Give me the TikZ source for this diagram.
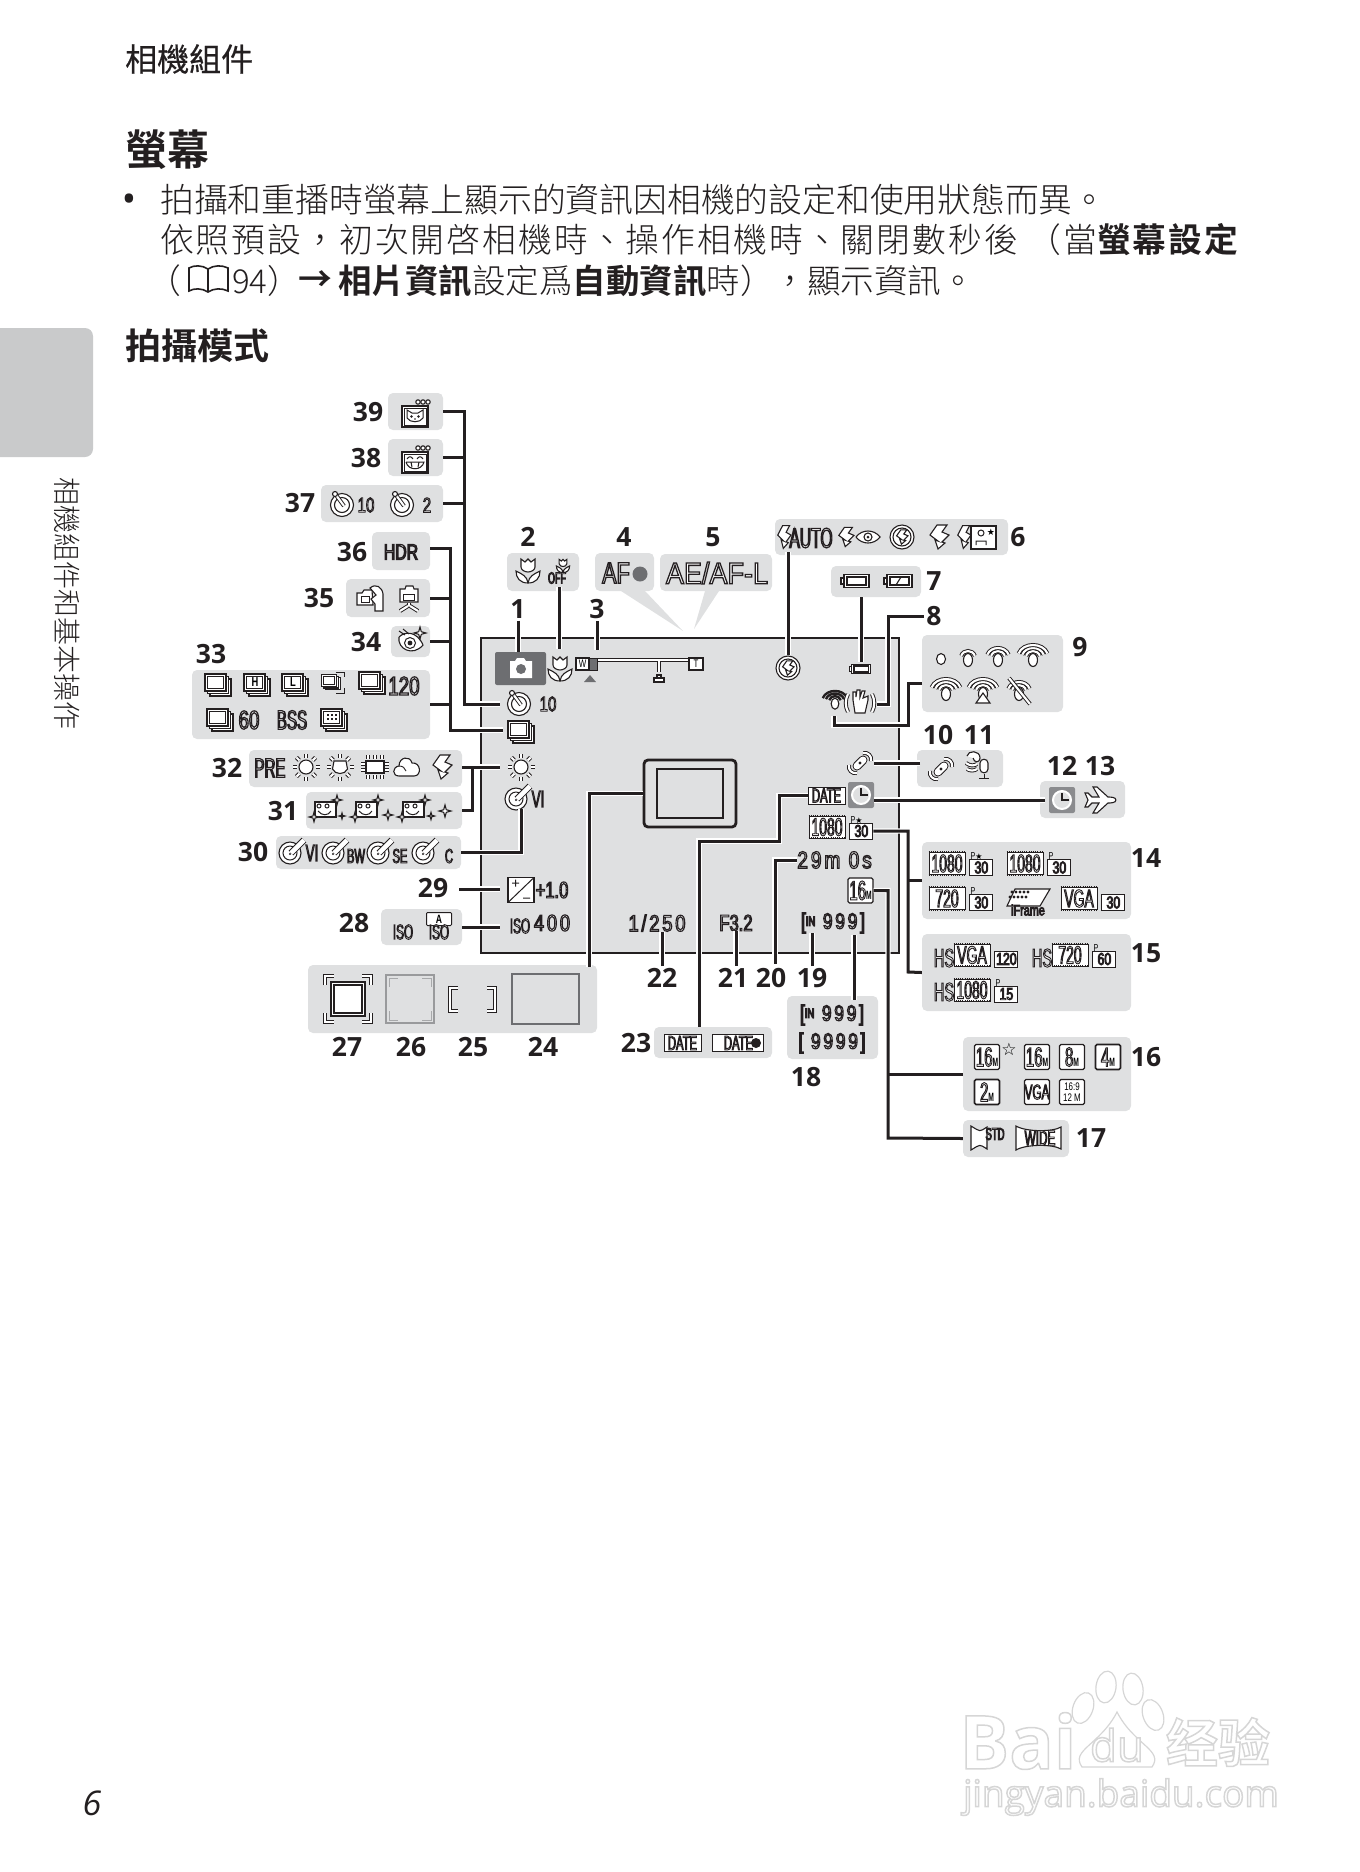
\documentclass[tikz,border=0pt]{standalone}
\usepackage{fontspec}
\setmainfont{Open Sans}
\newfontfamily\cjk[BoldFont={Noto Sans CJK TC Bold}]{Noto Sans CJK TC Light}
\newfontfamily\cjkm[BoldFont={Noto Sans CJK TC Bold}]{Noto Sans CJK TC}
\newfontfamily\narrow[FakeStretch=.72]{Liberation Sans}
\newfontfamily\tight[FakeStretch=.56]{Liberation Sans}
\newfontfamily\wider[FakeStretch=.9]{Liberation Sans}
\newfontfamily\spaced[FakeStretch=.8,LetterSpace=12]{Liberation Sans}
\newfontfamily\dejavu{DejaVu Sans}
\usetikzlibrary{positioning, calc}
\definecolor{ink}{HTML}{231F20}
\definecolor{panelc}{HTML}{DFE0E1}
\definecolor{tabc}{HTML}{C9CACB}
\definecolor{camc}{HTML}{6D6E71}
\newcommand{\outl}[2][0.9]{{\color{white}\special{pdf:code 0.14 0.12 0.13 RG 2 Tr #1 w}#2\special{pdf:code 0 Tr}}}
\newcommand{\wmark}[1]{{\color{white}\special{pdf:code 0.84 0.84 0.84 RG 2 Tr 1.5 w}#1\special{pdf:code 0 Tr}}}
\tikzset{
  every picture/.style={x=1pt, y=-1pt},
  panel/.style={fill=panelc, rounded corners=5pt, inner sep=0pt},
  num/.style={font=\bfseries\fontsize{26.5}{26.5}\selectfont, text=ink, inner sep=2pt},
  ot/.style={inner sep=0pt, font=\narrow\fontsize{#1}{#1}\selectfont},
  tt/.style={inner sep=0pt, font=\tight\fontsize{#1}{#1}\selectfont},
  st/.style={inner sep=0pt, font=\spaced\fontsize{#1}{#1}\selectfont},
  head/.style={anchor=west, inner sep=0pt, text=ink, font=\cjk\fontsize{#1}{#1}\selectfont},
  ic/.style={draw=ink, fill=white, line width=1.1pt},
  tube/.style={draw=ink, line width=.95pt, double=white, double distance=2.1pt},
  halo/.style={draw=white, line width=5.2pt},
  wire/.style={draw=ink, line width=3pt},
  film/.style={draw=ink, fill=white, line width=.9pt, minimum width=36pt, minimum height=22pt, inner sep=0pt,
    font=\tight\fontsize{25}{25}\selectfont,
    append after command={(\tikzlastnode.north west) edge[filmdot] (\tikzlastnode.north east)
      (\tikzlastnode.south west) edge[filmdot] (\tikzlastnode.south east)}},
  filmdot/.style={draw=ink, line width=2pt, dash pattern=on 1.1pt off 1.1pt},
  ratebox/.style={draw=ink, fill=white, line width=.9pt, minimum width=23pt, minimum height=16pt, inner sep=0pt,
    font=\narrow\fontsize{17}{17}\selectfont},
  mpbox/.style={draw=ink, fill=white, line width=1.1pt, rounded corners=1.5pt, minimum width=25pt, minimum height=25pt,
    inner sep=0pt, align=center, font=\tight\fontsize{27}{27}\selectfont},
  datebox/.style={draw=ink, fill=white, line width=1pt, inner sep=0pt, minimum width=37pt, minimum height=17pt,
    font=\tight\fontsize{20}{20}\selectfont},
  tulip/.pic={
    \draw[ic] (0,12) .. controls (-1,5) and (-6,3) .. (-12,0) .. controls (-12,7) and (-8,12) .. (0,12)
      .. controls (8,12) and (12,7) .. (12,0) .. controls (6,3) and (1,5) .. (0,12);
    \draw[ic] (-7,-12) -- (-3,-9) -- (0,-12) -- (3,-9) -- (7,-12) -- (7,-4) .. controls (7,-1) and (3,1) .. (0,1)
      .. controls (-3,1) and (-7,-1) .. (-7,-4) -- cycle;},
  timer/.pic={
    \draw[ic] (0,1) circle (11.5); \draw[ic] (0,1) circle (7.5);
    \draw[tube] (-6,-9) -- (2,2); \draw[ic] (-7,-10) circle (2.5);},
  stack/.pic={
    \foreach \d in {5,2.5,0} \draw[ic] (-13+\d,-11+\d) rectangle (8+\d,6+\d);
    \draw[ink, line width=1pt] (-10.5,-8.5) rectangle (5.5,3.5);},
  sun/.pic={
    \foreach \a in {0,45,...,315} \draw[tube] (\a:9.5) -- (\a:13.5);
    \draw[ic] (0,0) circle (7);},
  bulb/.pic={
    \foreach \a in {0,45,...,315} \draw[tube] (\a:9.5) -- (\a:13.5);
    \draw[ic] (-6,-6) -- (6,-6) -- (7.5,2) .. controls (5,8) and (-5,8) .. (-7.5,2) -- cycle;},
  tube3/.pic={
    \foreach \p in {-7,0,7} {\draw[tube] (\p,-12) -- (\p,-8); \draw[tube] (\p,8) -- (\p,12);}
    \foreach \p in {-3,3} {\draw[tube] (-14,\p) -- (-10,\p); \draw[tube] (10,\p) -- (14,\p);}
    \draw[ic] (-9,-6) rectangle (9,6);},
  cloud/.pic={
    \draw[ic] (-8,9) .. controls (-15,9) and (-15,0) .. (-8,-1) .. controls (-8,-10) and (3,-12) .. (5,-4)
      .. controls (14,-5) and (15,9) .. (7,9) -- cycle;
    \draw[ink, line width=.9pt] (-8,-1) .. controls (-4,-1) and (-2,1) .. (-1,4);},
  bolt/.pic={
    \draw[ic] (-2,-12) -- (8,-12) -- (3,-5) -- (10,-2) -- (3,5) -- (6,6) -- (-1,12) -- (-4,3) -- (-1,4) -- (-9,-2) -- cycle;},
  flashoff/.pic={
    \draw[ic] (0,0) circle (12); \draw[ic] (0,0) circle (9);
    \pic[scale=.6] at (0,0) {bolt};},
  redeye/.pic={
    \draw[ic] (-12,0) .. controls (-6,-8) and (6,-8) .. (12,0) .. controls (6,8) and (-6,8) .. (-12,0);
    \draw[ic] (0,0) circle (4); \fill[ink] (0,0) circle (1.5);},
  pen/.pic={
    \draw[ic] (-2,2) circle (11); \draw[ink, line width=1pt] (-2,2) circle (7);
    \fill[ink] (-2,3) circle (1.2);
    \draw[draw=ink, line width=1pt, double=white, double distance=4.6pt] (-1,2) -- (12,-11);},
  sparkle/.pic={
    \draw[ic] (0,-6) -- (1.3,-1.3) -- (6,0) -- (1.3,1.3) -- (0,6) -- (-1.3,1.3) -- (-6,0) -- (-1.3,-1.3) -- cycle;},
  retouch/.pic={
    \draw[ic] (-12,-8) rectangle (9,7);
    \draw[ink, line width=1pt] (-8,-4) circle (2) (0,-4) circle (2) (-9,1) .. controls (-5,6) and (1,6) .. (4,1);
    \pic[scale=.8] at (10,-10) {sparkle}; \pic[scale=.8] at (-13,7) {sparkle};},
  frame/.pic={
    \draw[ic] (-13,-8) rectangle (13,13); \draw[ink, line width=.9pt] (-11,-6) rectangle (11,11);
    \foreach \c in {3,8,13} \draw[ic] (\c,-12) circle (2.2);},
  catface/.pic={
    \draw[ink, line width=1pt] (-8,-5) -- (-8,3) .. controls (-5,8) and (5,8) .. (8,3) -- (8,-5) -- (3,-2) -- (-3,-2) -- cycle;
    \fill[ink] (-3.5,1.5) circle (1.3) (3.5,1.5) circle (1.3) (0,4) circle (.8);},
  smileface/.pic={
    \draw[ink, line width=1pt] (-8,-2) .. controls (-6,-5) and (-4,-5) .. (-2,-2) (2,-2) .. controls (4,-5) and (6,-5) .. (8,-2)
      (-9,1) -- (9,1) .. controls (7,10) and (-7,10) .. (-9,1) (-4,1) -- (-3,6) (4,1) -- (3,6);},
  handcam/.pic={
    \draw[ic] (-13,-4) -- (-8,-4) -- (-6,-7) -- (2,-7) -- (3,8) -- (-13,8) -- cycle;
    \draw[ink, line width=1pt] (-9,-1) rectangle (-1,5);
    \draw[ic] (0,-9) .. controls (6,-14) and (12,-10) .. (13,-3) -- (13,14) -- (5,14) -- (5,7) -- (1,2) -- (6,-2) -- cycle;},
  tripod/.pic={
    \draw[ic] (-9,-8) -- (-4,-8) -- (-3,-11) -- (4,-11) -- (5,-8) -- (9,-8) -- (9,5) -- (-9,5) -- cycle;
    \draw[ink, line width=1pt] (-6,-3) rectangle (5,3);
    \draw[tube] (0,6) -- (0,9); \draw[tube] (-1,9) -- (-9,14); \draw[tube] (1,9) -- (9,14);},
  blink/.pic={
    \draw[ic] (-12,-4) .. controls (-14,8) and (2,16) .. (12,4) .. controls (6,-10) and (-6,-10) .. (-12,-4);
    \draw[ink, line width=1pt] (-1,2) circle (5.5); \fill[ink] (-1,2) circle (2.4);
    \draw[ink, line width=1pt] (-12,-10) -- (-6,-6) (-8,-12) -- (-2,-7);
    \pic at (9,-8) {sparkle};},
  evbox/.pic={
    \draw[ic] (-13,-12.5) rectangle (13,12.5);
    \draw[ink, line width=1pt] (-13,12.5) -- (13,-12.5) (-9,-7) -- (-2,-7) (-5.5,-10.5) -- (-5.5,-3.5) (2,8) -- (9,8);},
  batt/.pic={
    \draw[ic] (-11,-6.5) rectangle (14,6.5); \draw[ic] (-14,-3) rectangle (-11,3);
    \draw[ink, line width=1.1pt] (-8,-4) rectangle (11,4);},
  hand/.pic={
    \draw[tube] (-12,-8) .. controls (-15,-2) and (-15,4) .. (-12,10) (12,-8) .. controls (15,-2) and (15,4) .. (12,10);
    \draw[ic] (-7,-2) -- (-7,-10) -- (-4,-10) -- (-4,-5) -- (-3,-12) -- (0,-12) -- (0,-5) -- (2,-11) -- (5,-11) -- (3,-4) -- (8,-6) -- (8,-2)
      -- (5,11) -- (-5,11) -- cycle;},
  wifi/.pic={
    \foreach \r in {1,...,#1} \draw[tube] ({-3-3.8*\r},{-1-1.2*\r}) .. controls ({-2-2.6*\r},{-5-3.6*\r}) and ({2+2.6*\r},{-5-3.6*\r}) .. ({3+3.8*\r},{-1-1.2*\r});
    \draw[ic] (0,2) ellipse (4.5 and 6.5);},
  motion/.pic={
    \draw[tube] (3,-10) .. controls (8,-11) and (12,-7) .. (11,-2);
    \draw[tube] (-3,10) .. controls (-8,11) and (-12,7) .. (-11,2);
    \draw[draw=ink, line width=1pt, double=white, double distance=7pt, line cap=round] (-3,3) -- (3,-3);
    \fill[ink] (0,0) circle (1.6);},
  mic/.pic={
    \draw[ic] (-12,-9) .. controls (-11,-15) and (1,-15) .. (1,-7) .. controls (1,-2) and (-5,-2) .. (-6,-7);
    \draw[tube] (-13,-2) .. controls (-9,1) and (-5,1) .. (-2,-1);
    \draw[tube] (-12,4) .. controls (-9,6) and (-5,6) .. (-2,4);
    \draw[ic] (1,-2) .. controls (1,-7) and (9,-7) .. (9,-2) -- (9,4) .. controls (9,9) and (1,9) .. (1,4) -- cycle;
    \draw[ink, line width=1pt] (5,9) -- (5,13) (0,13) -- (10,13);},
  clock/.pic={
    \fill[camc!80, rounded corners=2pt] (-13,-13) rectangle (13,13);
    \draw[draw=white, line width=2pt, fill=panelc] (0,0) circle (9);
    \draw[ink, line width=2.4pt] (0,-7) -- (0,0) -- (7,0);},
  plane/.pic={
    \draw[ic] (15,0) .. controls (15,-3) and (9,-3) .. (7,-3) -- (-4,-13) -- (-8,-13) -- (-2,-3) -- (-9,-3) -- (-13,-7) -- (-16,-7) -- (-13,0)
      -- (-16,7) -- (-13,7) -- (-9,3) -- (-2,3) -- (-8,13) -- (-4,13) -- (7,3) .. controls (9,3) and (15,3) .. (15,0);},
  pano/.pic={
    \draw[ic] (-18,-12) .. controls (-8,-6) and ({#1-8},-6) .. (#1,-11) -- (#1,11) .. controls ({#1-8},6) and (-8,6) .. (-18,12) -- cycle;},
}
\newcommand{\vidmode}[6]{%
  \node[film] (f#1) at (#2,#3) {\outl{#4}};
  \node[ratebox, right=4pt of f#1, yshift=-4pt] (r#1) {\outl{#5}};
  \node[ot=10, anchor=south west] at ($(r#1.north west)+(1,1)$) {#6};}
\newcommand{\wires}[1]{%
  \draw[#1] (p39.east) -| (bus39) -- (timerpt);
  \draw[#1] (p38.east) -- (p38.east -| bus39);
  \draw[#1] (p37.east) -- (p37.east -| bus39);
  \draw[#1] (a36) -| (bus36) -- (stackpt);
  \draw[#1] (p35.east) -- (p35.east -| bus36);
  \draw[#1] (p34.east) -- (p34.east -| bus36);
  \draw[#1] (p33.east) -- (p33.east -| bus36);
  \draw[#1] (a32) -- (sunpt);
  \draw[#1] (p31.east) -| (bus31);
  \draw[#1] (p30.east) -| (effectpt);
  \draw[#1] (a29) -- (evpt);
  \draw[#1] (p28.east) -- (isopt);
  \draw[#1] (afarea.west) -| (a27);
  \draw[#1] (n1.south) -- (n1.south |- cam.north);
  \draw[#1] (a2) -- (macropt);
  \draw[#1] (n3.south) -- (zoompt);
  \draw[#1] (a6) -- (flashpt);
  \draw[#1] (a7) -- (battpt);
  \draw[#1] (n8.west) -| (bus8) -- (handpt);
  \draw[#1] (a9) -| (bus9) -| (wifipt);
  \draw[#1] (a10) -- (motionpt);
  \draw[#1] (a12) -- (clockpt);
  \draw[#1] (rscr.east) -| (bus14) -- (p15.west);
  \draw[#1] (p14.west) -- (p14.west -| bus14);
  \draw[#1] (imgsize.east) -| (bus16) -- (p17.west);
  \draw[#1] (p16.west) -- (p16.west -| bus16);
  \draw[#1] (datebox.west) -| (bus23) -| (a23);
  \draw[#1] (remain.west) -| (a20);
  \draw[#1] (n19.north) -- (n19.north |- incount.south);
  \draw[#1] (a18) -- (b18);
  \draw[#1] (n22.north) -- (n22.north |- shutter.south);
  \draw[#1] (fnum.south) -- (fnum.south |- n21.north);}
\begin{document}
\begin{tikzpicture}
  \useasboundingbox (0,0) rectangle (1360,1872);
  % page text
  \fill[tabc, rounded corners=8pt] (-20,328) rectangle (93,457);
  \node[head=32] (hdr) at (125,59) {\cjkm\addfontfeature{FakeBold=.5}相機組件};
  \node[head=42] (ttl) at (125,150) {\bfseries 螢幕};
  \node[inner sep=0pt, font=\bfseries\fontsize{30}{30}\selectfont, text=ink] (dot) at (129,202) {•};
  \node[head=33.8] (l1) at (160,200) {拍攝和重播時螢幕上顯示的資訊因相機的設定和使用狀態而異。};
  \node[head=33.8] (l2) at (160,240) {\addfontfeature{LetterSpace=6}依照預設，初次開啓相機時、操作相機時、關閉數秒後 （當{\bfseries 螢幕設定}};
  \node[head=33.8] (l3a) at (147,281) {（};
  \draw[ink, line width=1.6pt] (208,269) .. controls (202,265) and (194,265) .. (189,268) -- (189,291) .. controls (194,288) and (202,288) .. (208,292)
    .. controls (214,288) and (222,288) .. (228,291) -- (228,268) .. controls (222,265) and (214,265) .. (208,269) -- (208,292);
  \node[head=33] (l3b) at (232,281) {94）};
  \node[head=33.8] (l3c) at (298,281) {\bfseries →};
  \node[head=33.5] (l3d) at (338,281) {{\bfseries 相片資訊}設定爲{\bfseries 自動資訊}時），顯示資訊。};
  \node[head=36] (sec) at (125,346) {\bfseries 拍攝模式};
  \node[inner sep=0pt, text=ink, rotate=-90, font=\cjk\fontsize{28}{28}\selectfont] (side) at (67,603) {相機組件和基本操作};
  \node[inner sep=0pt, text=ink, font=\itshape\fontsize{34}{34}\selectfont] (pg) at (92,1803) {6};
  % watermark
  \node[inner sep=0pt, font=\bfseries\fontsize{74}{74}\selectfont] (wm1) at (1018,1741) {\wmark{Bai}};
  \foreach \x/\y/\a in {1083/1708/-20,1106/1687/-8,1133/1689/8,1153/1715/20}
    \draw[draw=black!16, line width=1.2pt, fill=white, rotate around={\a:(\x,\y)}] (\x,\y) ellipse (10 and 16);
  \draw[draw=black!16, line width=1.2pt, fill=white] (1082,1767) .. controls (1070,1750) and (1100,1745) .. (1117,1712)
    .. controls (1134,1745) and (1164,1750) .. (1152,1767) -- cycle;
  \node[inner sep=0pt, font=\fontsize{44}{44}\selectfont] (wm2) at (1117,1745) {\wmark{du}};
  \node[inner sep=0pt, font=\cjk\bfseries\fontsize{52}{52}\selectfont] (wm3) at (1218,1742) {\wmark{经验}};
  \node[inner sep=0pt, font=\fontsize{37}{37}\selectfont] (wm4) at (1121,1797) {\wmark{jingyan.baidu.com}};
  % panels
  \fill[panelc] (621,591) -- (645,591) -- (683,631) -- cycle;
  \fill[panelc] (705,591) -- (719,591) -- (694,629) -- cycle;
  \foreach \n/\a/\b/\c/\d in {39/388/393/443/430, 38/388/439/443/476, 37/321/485/443/522, 36/372/532/430/570,
      35/346/579/430/617, 34/391/626/430/657, 33/192/670/430/739, 32/249/750/462/787, 31/306/792/462/829,
      30/276/836/461/869, 28/381/909/462/945, 27/308/965/597/1033, 23/654/1027/772/1058, 18/787/996/878/1059,
      14/922/842/1131/919, 15/922/934/1131/1011, 16/963/1037/1131/1111, 17/963/1120/1069/1157,
      6/775/519/1008/555, 7/831/566/921/597, 9/922/635/1063/712, 10/917/750/1003/787, 12/1040/781/1125/818,
      4/595/553/654/591, 5/660/554/772/591, 2/507/553/579/591}
    \node[panel, minimum width={(\c-\a)*1pt}, minimum height={(\d-\b)*1pt}] (p\n) at ({(\a+\c)/2},{(\b+\d)/2}) {};
  % screen
  \draw[ink, fill=panelc, line width=1.4pt] (481,638) rectangle (899,953);
  \node[draw=ink, line width=2.8pt, rounded corners=4pt, minimum width=92pt, minimum height=67pt, inner sep=0pt] (afarea) at (690,793.5) {};
  \node[draw=ink, line width=1.4pt, minimum width=66pt, minimum height=49pt, inner sep=0pt] (afin) at (690,793.5) {};
  % ends of the connectors
  \coordinate (bus39) at (464,704); \coordinate (timerpt) at (500,704);
  \coordinate (a36) at (430,548); \coordinate (bus36) at (450,730); \coordinate (stackpt) at (503,730);
  \coordinate (a32) at (462,767); \coordinate (sunpt) at (500,767); \coordinate (bus31) at (472,767);
  \coordinate (effectpt) at (521,809); \coordinate (a29) at (459,889); \coordinate (evpt) at (500,889);
  \coordinate (isopt) at (500,927); \coordinate (a27) at (589,967);
  \coordinate (a2) at (559,587); \coordinate (macropt) at (559,649); \coordinate (zoompt) at (597,650);
  \coordinate (a6) at (788,552); \coordinate (flashpt) at (788,655); \coordinate (a7) at (861,597); \coordinate (battpt) at (861,662);
  \coordinate (bus8) at (888,704); \coordinate (handpt) at (877,704);
  \coordinate (a9) at (922,683); \coordinate (bus9) at (908,725); \coordinate (wifipt) at (834,716);
  \coordinate (a10) at (920,763); \coordinate (motionpt) at (874,763);
  \coordinate (a12) at (1045,800); \coordinate (clockpt) at (874,800);
  \coordinate (bus14) at (908,972); \coordinate (bus16) at (888,1138);
  \coordinate (bus23) at (779,841); \coordinate (a23) at (699,1027); \coordinate (a20) at (775,964);
  \coordinate (a18) at (854,935); \coordinate (b18) at (854,1000);
  % numbers
  \foreach \n/\x/\y in {1/518/609, 2/528/537, 3/597/609, 4/624/537, 5/713/537, 6/1018/537, 7/934/581, 8/934/616, 9/1080/647,
      10/938/735, 11/979/735, 12/1062/766, 13/1100/766, 14/1146/858, 15/1146/953, 16/1146/1057, 17/1091/1138, 18/806/1077,
      19/812/978, 20/771/978, 21/733/978, 22/662/978, 23/636/1043, 24/543/1047, 25/473/1047, 26/411/1047, 27/347/1047,
      28/354/923, 29/433/888, 30/253/852, 31/283/811, 32/227/768, 33/211/654, 34/366/642, 35/319/598, 36/352/552,
      37/300/503, 38/366/458, 39/368/412}
    \node[num] (n\n) at (\x,\y) {\n};
  % screen readouts
  \node[fill=camc, rounded corners=2pt, minimum width=51pt, minimum height=33pt, inner sep=0pt] (cam) at (520.5,668.5) {};
  \fill[white] (510,661) -- (515,661) -- (517,658) -- (524,658) -- (526,661) -- (532,661) -- (532,678) -- (510,678) -- cycle;
  \fill[camc] (521,669) circle (5);
  \pic at (560,669) {tulip};
  \draw[ic] (576,658) rectangle (589,670); \node[ot=11] (zw) at (582.5,664) {W};
  \fill[camc] (589,658) rectangle (597,670); \draw[ink, line width=.9pt] (589,658) rectangle (597,670);
  \draw[ink, line width=.9pt, fill=white] (597,658) rectangle (689,661);
  \draw[ic] (689,658) rectangle (703,670); \node[ot=11] (zt) at (696,664) {T};
  \fill[camc] (584,682) -- (596,682) -- (590,675) -- cycle;
  \draw[tube] (659,661) -- (659,672); \draw[ic] (654,678) rectangle (664,682); \draw[ic] (657,675) rectangle (661,678);
  \pic at (788,668) {flashoff};
  \pic[scale=.75] at (860,669) {batt};
  \pic[scale=.85, tube/.style={draw=ink, line width=2.4pt}] at (835,702) {wifi=3};
  \pic at (860,702) {hand};
  \pic at (860,763) {motion};
  \node[datebox] (datebox) at (826.5,795.5) {\outl{DATE}};
  \pic at (861,795) {clock};
  \vidmode{scr}{827}{827}{1080}{30}{P{\dejavu\fontsize{8}{8}\selectfont ★}}
  \node[st=24, anchor=east] (remain) at (872,860) {\outl[1.1]{29m 0s}};
  \node[mpbox] (imgsize) at (860.5,890.5) {\outl{16}{\bfseries\fontsize{12}{12}\selectfont M}};
  \pic at (519,703) {timer}; \node[ot=21] (scr10) at (548,704) {\outl{10}};
  \pic at (521,732) {stack};
  \pic at (521,767) {sun};
  \pic at (518,797) {pen}; \node[tt=24] (scrvi) at (538,799) {\outl{VI}};
  \pic at (521,890) {evbox}; \node[ot=23] (screv) at (552,890) {\outl[1.1]{+1.0}};
  \node[tt=21] (scriso) at (520,926) {\outl{ISO}}; \node[st=23] (scr400) at (552,923) {\outl[1.1]{400}};
  \node[st=23] (shutter) at (657,923) {\outl[1.1]{1/250}};
  \node[ot=23] (fnum) at (736,923) {\outl[1.1]{F3.2}};
  \node[inner sep=1pt, st=22] (incount) at (833,923) {\outl[1.1]{[\raisebox{3pt}{\narrow\fontsize{13}{13}\selectfont IN} 999]}};
  % panel icons, left side
  \pic at (415,414) {frame}; \pic at (415,415) {catface};
  \pic at (415,460) {frame}; \pic at (415,461) {smileface};
  \pic at (342,504) {timer}; \node[ot=21] (t37a) at (366,505) {\outl{10}};
  \pic at (402,504) {timer}; \node[ot=21] (t37b) at (427,505) {\outl{2}};
  \node[ot=22] (hdr36) at (401,552) {\outl[1.2]{HDR}};
  \pic at (370,597) {handcam}; \pic at (409,597) {tripod};
  \pic at (411,641) {blink};
  \pic at (218,685) {stack};
  \pic at (257,685) {stack}; \node[ot=13] (sH) at (255,682) {\bfseries H};
  \pic at (295,685) {stack}; \node[ot=13] (sL) at (293,682) {\bfseries L};
  \pic[scale=.7] at (331,682) {stack};
  \draw[ink, line width=1pt] (336,672) -- (344,672) -- (344,677) (336,693) -- (344,693) -- (344,688);
  \pic at (372,683) {stack}; \node[ot=26] (t120) at (404,686) {\outl[1.2]{120}};
  \pic at (220,720) {stack}; \node[ot=26] (t60) at (249,720) {\outl[1.2]{60}};
  \node[tt=27] (tbss) at (292,720) {\outl[1.2]{BSS}};
  \pic at (334,720) {stack};
  \foreach \x in {-4,0,4} \foreach \y in {-4,0} \fill[ink] (332+\x-1,719+\y-1) rectangle ++(2,2);
  \node[tt=27] (tpre) at (270,768) {\outl[1.2]{PRE}};
  \pic at (306,767) {sun}; \pic at (340,767) {bulb}; \pic at (375,767) {tube3};
  \pic at (407,767) {cloud}; \pic at (442,767) {bolt};
  \pic at (327,810) {retouch}; \pic[scale=.5] at (342,816) {sparkle};
  \pic at (368,810) {retouch}; \pic[scale=.8] at (388,815) {sparkle};
  \pic at (415,810) {retouch}; \pic[scale=.6] at (431,816) {sparkle}; \pic at (445,811) {sparkle};
  \pic at (292,851) {pen}; \node[tt=24] (tvi) at (312,853) {\outl{VI}};
  \pic at (335,851) {pen}; \node[tt=20] (tbw) at (356,856) {\outl{BW}};
  \pic at (380,851) {pen}; \node[tt=20] (tse) at (400,856) {\outl{SE}};
  \pic at (425,851) {pen}; \node[tt=20] (tc) at (449,856) {\outl{C}};
  \node[tt=21] (iso1) at (403,932) {\outl{ISO}};
  \node[draw=ink, fill=white, line width=1pt, inner sep=0pt, minimum width=25pt, minimum height=13pt, ot=12, rounded corners=1pt] (isoa) at (439,919) {\bfseries A};
  \node[tt=21] (iso2) at (439,932) {\outl{ISO}};
  % panel 27 to 24
  \draw[ic] (331,982) rectangle (365,1016);
  \draw[ink, line width=1.3pt] (334,985) rectangle (362,1013);
  \foreach \sx/\sy in {1/1,-1/1,1/-1,-1/-1}
    \draw[ink, line width=1pt, double=white, double distance=1.6pt] ({348+\sx*23},{999+\sy*14}) -- ({348+\sx*23},{999+\sy*23}) -- ({348+\sx*14},{999+\sy*23});
  \draw[camc!70, line width=1.2pt] (386,975) rectangle (434,1023);
  \foreach \sx/\sy in {1/1,-1/1,1/-1,-1/-1}
    \draw[camc!60, line width=.8pt] ({410+\sx*21},{999+\sy*12}) -- ({410+\sx*21},{999+\sy*21}) -- ({410+\sx*12},{999+\sy*21});
  \draw[tube] (458,988) -- (450,988) -- (450,1011) -- (458,1011);
  \draw[tube] (487,988) -- (495,988) -- (495,1011) -- (487,1011);
  \draw[camc, line width=1.6pt] (512,974) rectangle (579,1024);
  % panels on top
  \pic at (528,571) {tulip};
  \pic[scale=.55] at (563,566) {tulip}; \node[tt=16] (toff) at (557,578) {\outl{OFF}};
  \node[ot=30] (taf) at (616,573) {\outl[1.3]{AF}};
  \fill[camc] (640,574) circle (7.5);
  \node[inner sep=0pt, font=\wider\fontsize{30}{30}\selectfont] (tae) at (717,573) {\outl[1.3]{AE/AF-L}};
  \pic[xscale=.7, yscale=.95] at (784,537) {bolt}; \node[tt=28] (tauto) at (811,538) {\outl[1.2]{AUTO}};
  \pic[scale=.8] at (846,537) {bolt}; \pic at (868,537) {redeye};
  \pic at (902,537) {flashoff};
  \pic at (939,537) {bolt};
  \pic[xscale=.7, yscale=.95] at (964,537) {bolt};
  \draw[ic] (971,526) rectangle (996,549); \draw[ink, line width=1pt] (981,533) circle (3) (976,545) -- (976,541) -- (986,541) -- (986,545);
  \node[ot=9] (tstar) at (991,532) {\dejavu ★};
  \pic at (855,581) {batt};
  \pic at (898,581) {batt}; \draw[ink, line width=1.1pt] (896,585) -- (901,577);
  \foreach \x/\k in {968/1,998/2,1033/3} \pic at (\x,658) {wifi=\k};
  \draw[ic] (941,659) ellipse (4.5 and 5.5);
  \foreach \x/\k in {946/3,983/3} \pic at (\x,692) {wifi=\k};
  \draw[ic] (983,693) -- (990,703) -- (976,703) -- cycle;
  \pic at (1019,692) {wifi=2}; \draw[tube] (1009,678) -- (1030,704);
  \pic at (941,769) {motion};
  \pic at (979,765) {mic};
  \pic at (1062,800) {clock};
  \pic at (1101,800) {plane};
  \vidmode{a}{947}{863.5}{1080}{30}{P{\dejavu\fontsize{8}{8}\selectfont ★}}
  \vidmode{b}{1025}{863.5}{1080}{30}{P}
  \vidmode{c}{947}{898.5}{720}{30}{P}
  \draw[ic] (1015,889) -- (1050,889) -- (1040,906) -- (1007,906) -- cycle;
  \foreach \x in {1012,1016,...,1028} \fill[ink] (\x,892) circle (1.6) (\x-2,897) circle (1.6);
  \node[ot=15] (tif) at (1028,910) {\outl{iFrame}};
  \vidmode{d}{1079}{898.5}{VGA}{30}{}
  \node[tt=26] (hs1) at (944,958) {\outl{HS}}; \vidmode{e}{972}{955}{VGA}{120}{}
  \node[tt=26] (hs2) at (1042,958) {\outl{HS}}; \vidmode{f}{1070}{955}{720}{60}{P}
  \node[tt=26] (hs3) at (944,992) {\outl{HS}}; \vidmode{g}{972}{990}{1080}{15}{P}
  \node[mpbox] (m1) at (987,1057) {\outl{16}{\bfseries\fontsize{12}{12}\selectfont M}};
  \node[inner sep=0pt, font=\dejavu\fontsize{17}{17}\selectfont] (m1s) at (1009,1049) {☆};
  \node[mpbox] (m2) at (1037,1057) {\outl{16}{\bfseries\fontsize{12}{12}\selectfont M}};
  \node[mpbox] (m3) at (1072,1057) {\outl{8}{\bfseries\fontsize{12}{12}\selectfont M}};
  \node[mpbox, line width=1.6pt] (m4) at (1108,1057) {\outl{4}{\bfseries\fontsize{12}{12}\selectfont M}};
  \node[mpbox, line width=1.6pt] (m5) at (987,1092) {\outl{2}{\bfseries\fontsize{12}{12}\selectfont M}};
  \node[mpbox, font=\tight\fontsize{21}{21}\selectfont] (m6) at (1037,1092) {\outl{VGA}};
  \node[mpbox, font=\narrow\fontsize{11}{11.5}\selectfont] (m7) at (1072,1092) {16:9\\12 M};
  \pic at (989,1138) {pano=-2}; \node[tt=17] (tstd) at (995,1134) {\outl{STD}};
  \pic at (1034,1138) {pano=27}; \node[tt=21] (twide) at (1040,1138) {\outl{WIDE}};
  \node[inner sep=1pt, st=22] (in18) at (832,1015) {\outl[1.1]{[\raisebox{3pt}{\narrow\fontsize{13}{13}\selectfont IN} 999]}};
  \node[inner sep=1pt, st=22] (all18) at (832,1043) {\outl[1.1]{[ 9999]}};
  \node[datebox] (d1) at (682.5,1043) {\outl{DATE}};
  \node[datebox, minimum width=51pt, anchor=west] (d2) at (712,1043) {\hspace{1pt}\outl{DATE}\hspace{12pt}};
  \fill[ink] (756,1043) circle (5);
  % connectors
  \wires{halo}
  \wires{wire}
\end{tikzpicture}
\end{document}
